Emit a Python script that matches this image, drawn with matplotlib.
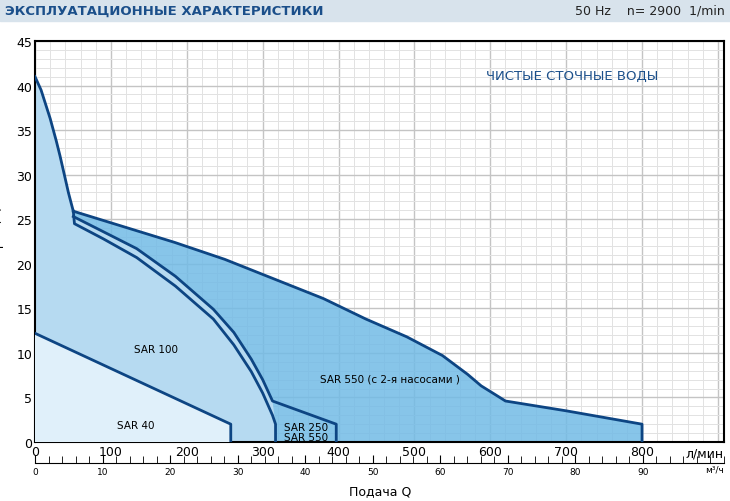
import matplotlib.pyplot as plt
import numpy as np

plt.rcParams['font.family'] = ['Liberation Sans Narrow', 'DejaVu Sans']

# pump curves, Q in l/min, H in m
outer_q = [0, 8, 20, 28, 33, 40, 44, 48, 50.5]
outer_h = [41, 39.5, 36.3, 33.8, 32.1, 29.5, 28.0, 26.7, 25.9]

sar550_q = [50.5, 100, 184, 250, 315, 380, 436, 490, 537, 570, 588, 605, 620, 700, 800, 800]
sar550_h = [25.9, 24.6, 22.4, 20.5, 18.3, 16.1, 13.8, 11.8, 9.7, 7.6, 6.3, 5.4, 4.6, 3.5, 2.0, 0]

sar250_q = [50.5, 90, 134, 185, 235, 262, 285, 300, 313, 397, 397]
sar250_h = [25.3, 23.6, 21.7, 18.6, 14.9, 12.3, 9.3, 7.0, 4.6, 2.0, 0]

sar100_q = [50.5, 52, 90, 134, 185, 235, 262, 285, 300, 313, 317, 317]
sar100_h = [25.9, 24.5, 22.8, 20.7, 17.5, 13.8, 10.9, 7.9, 5.5, 3.0, 2.0, 0]

sar40_q = [0, 258, 258]
sar40_h = [12.2, 2.0, 0]

x_ticks = [0, 100, 200, 300, 400, 500, 600, 700, 800]
m3_ticks = [0, 10, 20, 30, 40, 50, 60, 70, 80, 90]

line_col = '#0d4583'
dark_fill = '#72bbe6'
mid_fill = '#b6daf1'
light_fill = '#e0f0fa'

fig = plt.figure(figsize=(7.3, 5.02), dpi=100)

# header band
fig.patches.append(plt.Rectangle((0, 1 - 22 / 502), 1, 22 / 502, transform=fig.transFigure,
                                 color='#d8e3ec', zorder=0))
fig.text(5 / 730, 1 - 11 / 502, 'ЭКСПЛУАТАЦИОННЫЕ ХАРАКТЕРИСТИКИ', fontsize=9.5, fontweight='bold',
         color='#1b4f8a', va='center')
fig.text(725 / 730, 1 - 11 / 502, '50 Hz    n= 2900  1/min', fontsize=9, color='#222222',
         va='center', ha='right')

x_max = 908
ax = fig.add_axes([35 / 730, 1 - 443 / 502, 689 / 730, 401 / 502])
ax.set_xlim(0, x_max)
ax.set_ylim(0, 45)

ax.set_xticks(np.arange(0, x_max, 100))
ax.set_xticks(np.arange(0, x_max, 20), minor=True)
ax.set_yticks(np.arange(0, 46, 5))
ax.set_yticks(np.arange(0, 46, 1), minor=True)
ax.grid(which='major', color='#c4c4c4', linewidth=1.0, zorder=0)
ax.grid(which='minor', color='#e2e2e2', linewidth=0.7, zorder=0)
ax.set_axisbelow(True)
ax.tick_params(which='both', length=0, labelsize=9, pad=2)
ax.set_xticklabels([str(t) for t in x_ticks] + [''])
for s in ax.spines.values():
    s.set_linewidth(1.5)

# fills
ax.fill(outer_q + sar550_q + [0], outer_h + sar550_h + [0], color=dark_fill, alpha=0.85, zorder=1, lw=0)
light_q = outer_q + sar250_q[:9] + [317, 317, 0]
light_h = outer_h + sar250_h[:9] + [2.0, 0, 0]
ax.fill(light_q, light_h, color=mid_fill, zorder=2, lw=0)
ax.fill(sar40_q + [0], sar40_h + [0], color=light_fill, zorder=3, lw=0)

lw = 2
for q, h in [(outer_q, outer_h), (sar550_q, sar550_h), (sar250_q, sar250_h),
             (sar100_q, sar100_h), (sar40_q, sar40_h)]:
    ax.plot(q, h, color=line_col, lw=lw, zorder=5, solid_joinstyle='round')

fs = 7.5
ax.text(108, 1.6, 'SAR 40', fontsize=fs, zorder=6)
ax.text(130, 10.1, 'SAR 100', fontsize=fs, zorder=6)
ax.text(328, 1.3, 'SAR 250', fontsize=fs, zorder=6)
ax.text(328, 0.2, 'SAR 550', fontsize=fs, zorder=6)
ax.text(376, 6.8, 'SAR 550 (с 2-я насосами )', fontsize=fs, zorder=6)
ax.text(0.655, 0.905, 'ЧИСТЫЕ СТОЧНЫЕ ВОДЫ', transform=ax.transAxes, fontsize=9.5,
        color='#1b4f8a')
ax.set_ylabel('Напор H (м)', fontsize=8.5, labelpad=1)
ax.yaxis.set_label_coords(-0.045, 0.5)
ax.text(1.0, -0.012, 'л/мин', transform=ax.transAxes, ha='right', va='top', fontsize=9)

# m3/h axis
ax2 = fig.add_axes([35 / 730, 1 - 464 / 502, 689 / 730, 0.001])
m3_per_unit = 8.9
ax2.set_xlim(0, x_max / m3_per_unit)
for k in ['top', 'left', 'right']:
    ax2.spines[k].set_visible(False)
ax2.spines['bottom'].set_linewidth(0.8)
ax2.set_yticks([])
ax2.set_xticks(m3_ticks)
ax2.set_xticks(np.arange(0, x_max / m3_per_unit, 2), minor=True)
ax2.tick_params(which='major', direction='in', length=6, labelsize=6.5, pad=3)
ax2.tick_params(which='minor', direction='in', length=5)
ax2.patch.set_visible(False)
ax2.text(1.0, -3, 'м³/ч', transform=ax2.transAxes, ha='right', va='top', fontsize=6.5)
fig.text(380 / 730, 1 - 492 / 502, 'Подача Q', ha='center', va='center', fontsize=9)

fig.savefig('out.png', dpi=100)
